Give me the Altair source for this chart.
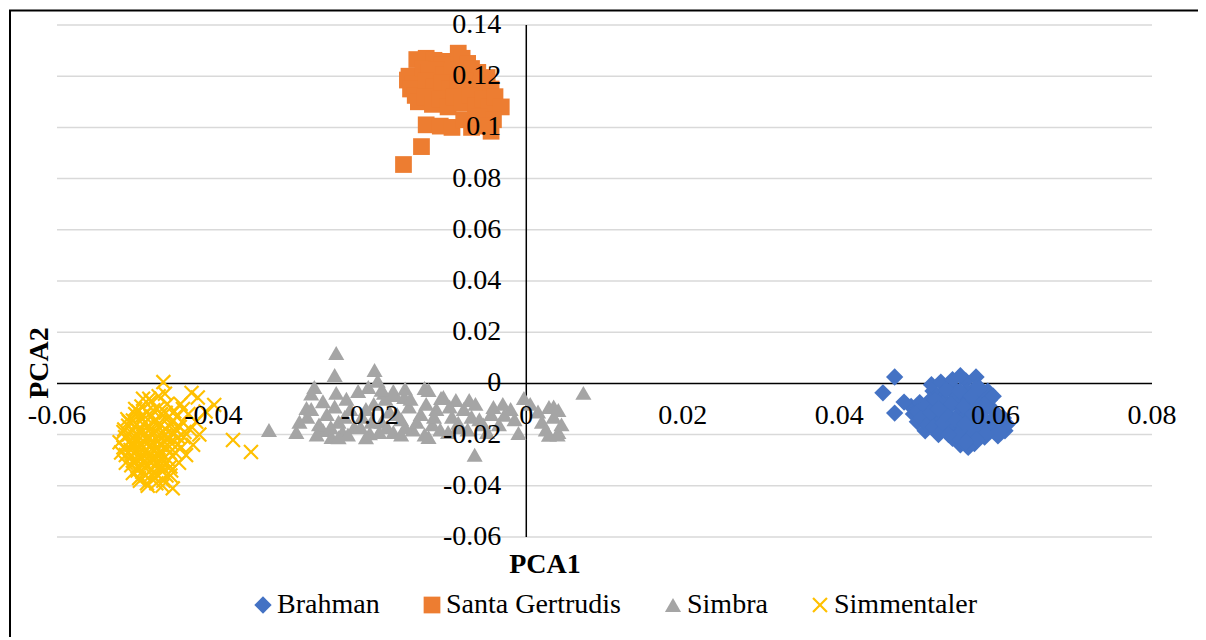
import altair as alt
import pandas as pd

series_names = ["Brahman", "Santa Gertrudis", "Simbra", "Simmentaler"]
series_colors = ["#4472C4", "#ED7D31", "#A5A5A5", "#FFC000"]

brahman_x = [0.0492, 0.0495, 0.0500, 0.0503, 0.0508, 0.0512, 0.0515, 0.0518, 0.0522, 0.0525,
             0.0528, 0.0530, 0.0532, 0.0535, 0.0538, 0.0540, 0.0542, 0.0545, 0.0547, 0.0550,
             0.0552, 0.0555, 0.0557, 0.0558, 0.0560, 0.0562, 0.0563, 0.0565, 0.0567, 0.0568,
             0.0570, 0.0572, 0.0573, 0.0575, 0.0577, 0.0578, 0.0580, 0.0582, 0.0583, 0.0585,
             0.0586, 0.0590, 0.0592, 0.0595, 0.0598, 0.0600, 0.0603, 0.0607, 0.0612, 0.0615,
             0.0520, 0.0545, 0.0555, 0.0565, 0.0510, 0.0518, 0.0530, 0.0545, 0.0555,
             0.0500, 0.0505, 0.0510, 0.0513, 0.0517, 0.0520, 0.0523, 0.0527, 0.0533, 0.0537,
             0.0543, 0.0548, 0.0551, 0.0554, 0.0559, 0.0561, 0.0566, 0.0569, 0.0571, 0.0574,
             0.0579, 0.0581, 0.0584, 0.0588, 0.0591, 0.0594, 0.0597, 0.0602, 0.0605, 0.0610,
             0.0576, 0.0562, 0.0540, 0.0535, 0.0527,
             0.0471, 0.0456, 0.0471, 0.0483]
brahman_y = [-0.0090, -0.0120, -0.0150, -0.0075, -0.0105, -0.0135, -0.0165, -0.0060, -0.0090, -0.0120,
             -0.0150, -0.0180, -0.0040, -0.0070, -0.0100, -0.0130, -0.0160, -0.0190, -0.0020, -0.0050,
             -0.0085, -0.0115, -0.0145, -0.0175, -0.0205, 0.0010, -0.0030, -0.0065, -0.0100, -0.0135,
             -0.0165, -0.0195, -0.0235, 0.0025, -0.0010, -0.0045, -0.0080, -0.0115, -0.0150, -0.0180,
             -0.0210, -0.0030, -0.0065, -0.0100, -0.0135, -0.0170, -0.0205, -0.0150, -0.0185, -0.0160,
             -0.0030, -0.0215, -0.0240, -0.0250, -0.0185, -0.0005, 0.0005, 0.0015, 0.0030,
             -0.0110, -0.0135, -0.0090, -0.0160, -0.0115, -0.0170, -0.0065, -0.0200, -0.0155, -0.0025,
             -0.0080, -0.0140, -0.0205, -0.0030, -0.0090, -0.0160, -0.0215, -0.0050, -0.0120, -0.0180,
             -0.0020, -0.0100, -0.0135, -0.0195, -0.0085, -0.0150, -0.0050, -0.0120, -0.0185, -0.0135,
             -0.0220, -0.0230, -0.0200, -0.0120, -0.0100,
             0.0025, -0.0037, -0.0116, -0.0073]

santa_x = [-0.0140, -0.0128, -0.0118, -0.0100, -0.0087, -0.0082, -0.0075, -0.0108,
           -0.0150, -0.0152, -0.0145, -0.0148, -0.0142, -0.0138,
           -0.0132, -0.0125, -0.0115, -0.0105, -0.0095, -0.0085, -0.0070, -0.0062, -0.0128, -0.0118,
           -0.0108, -0.0098, -0.0088, -0.0078, -0.0068, -0.0058, -0.0050, -0.0045,
           -0.0130, -0.0120, -0.0110, -0.0100, -0.0092, -0.0082, -0.0072, -0.0065, -0.0055, -0.0048,
           -0.0128, -0.0110, -0.0095, -0.0080, -0.0070, -0.0060,
           -0.0040, -0.0032, -0.0045, -0.0042, -0.0052,
           -0.0157, -0.0134]
santa_y = [0.1265, 0.1270, 0.1262, 0.1258, 0.1290, 0.1270, 0.1250, 0.1245,
           0.1200, 0.1185, 0.1170, 0.1150, 0.1125, 0.1100,
           0.1230, 0.1215, 0.1225, 0.1205, 0.1220, 0.1200, 0.1230, 0.1215, 0.1180, 0.1160,
           0.1175, 0.1150, 0.1165, 0.1180, 0.1160, 0.1170, 0.1195, 0.1150,
           0.1120, 0.1090, 0.1110, 0.1080, 0.1120, 0.1095, 0.1125, 0.1085, 0.1110, 0.1080,
           0.1010, 0.1005, 0.1000, 0.1030, 0.1000, 0.1040,
           0.1120, 0.1080, 0.0985, 0.1030, 0.1005,
           0.0855, 0.0925]

simbra_x = [-0.0243, -0.0245, -0.0271, -0.0194, -0.0281, -0.0243, -0.0329, -0.0294, -0.0260, -0.0249,
            -0.0202, -0.0182, -0.0169, -0.0156, -0.0130, -0.0109, -0.0125, -0.0106, -0.0090, -0.0073,
            -0.0042, -0.0028, -0.0003, -0.0010, 0.0029, 0.0041, 0.0041, 0.0029, -0.0066, 0.0073,
            -0.0125, -0.0087,
            -0.0280, -0.0265, -0.0255, -0.0240, -0.0235, -0.0225, -0.0220, -0.0210, -0.0200, -0.0195,
            -0.0185, -0.0175, -0.0170, -0.0160, -0.0150, -0.0145, -0.0135, -0.0120, -0.0115, -0.0100,
            -0.0095, -0.0080, -0.0075, -0.0060, -0.0050, -0.0035, -0.0020, 0.0015, 0.0020, 0.0035,
            0.0045, -0.0230, -0.0215, -0.0190, -0.0260, -0.0275, -0.0160, -0.0130, -0.0240, -0.0205,
            -0.0290, -0.0275, -0.0268, -0.0250, -0.0245, -0.0232, -0.0228, -0.0212, -0.0205, -0.0198,
            -0.0188, -0.0180, -0.0178, -0.0165, -0.0155, -0.0148, -0.0140, -0.0128, -0.0118, -0.0110,
            -0.0098, -0.0088, -0.0070, -0.0065, -0.0055, -0.0045, -0.0030, -0.0015, 0.0005, 0.0025,
            0.0035, 0.0040, -0.0170, -0.0155, -0.0185]
simbra_y = [0.0119, 0.0033, -0.0014, 0.0052, -0.0096, -0.0037, -0.0182, -0.0190, -0.0182, -0.0209,
            -0.0014, -0.0037, -0.0045, -0.0053, -0.0018, -0.0057, -0.0026, -0.0053, -0.0065, -0.0065,
            -0.0092, -0.0123, -0.0057, -0.0194, -0.0092, -0.0104, -0.0190, -0.0201, -0.0279, -0.0037,
            -0.0209, -0.0154,
            -0.0130, -0.0160, -0.0120, -0.0150, -0.0190, -0.0100, -0.0170, -0.0130, -0.0195, -0.0080,
            -0.0150, -0.0110, -0.0190, -0.0140, -0.0090, -0.0180, -0.0120, -0.0160, -0.0100, -0.0190,
            -0.0130, -0.0100, -0.0180, -0.0140, -0.0190, -0.0160, -0.0100, -0.0110, -0.0150, -0.0130,
            -0.0160, -0.0060, -0.0030, 0.0010, -0.0070, -0.0040, -0.0200, -0.0200, -0.0210, -0.0210,
            -0.0150, -0.0100, -0.0200, -0.0170, -0.0090, -0.0130, -0.0200, -0.0170, -0.0100, -0.0150,
            -0.0190, -0.0060, -0.0170, -0.0120, -0.0170, -0.0060, -0.0150, -0.0080, -0.0130, -0.0180,
            -0.0090, -0.0170, -0.0130, -0.0080, -0.0160, -0.0120, -0.0080, -0.0140, -0.0080, -0.0180,
            -0.0090, -0.0200, -0.0030, -0.0020, -0.0025]

simm_x = [-0.0464, -0.0428, -0.0399, -0.0375, -0.0352, -0.0420, -0.0410,
          -0.0520, -0.0518, -0.0515, -0.0512, -0.0508, -0.0505, -0.0503, -0.0500, -0.0498, -0.0496,
          -0.0494, -0.0492, -0.0490, -0.0488, -0.0486, -0.0484, -0.0482, -0.0480, -0.0478, -0.0476,
          -0.0474, -0.0472, -0.0470, -0.0468, -0.0466, -0.0464, -0.0462, -0.0460, -0.0458, -0.0456,
          -0.0454, -0.0452, -0.0450, -0.0448, -0.0446, -0.0444, -0.0442, -0.0440, -0.0438, -0.0435,
          -0.0432, -0.0430, -0.0426, -0.0422, -0.0418, -0.0480, -0.0470, -0.0495, -0.0460, -0.0490,
          -0.0508, -0.0506, -0.0504, -0.0502, -0.0500, -0.0498, -0.0497, -0.0495, -0.0493, -0.0491,
          -0.0489, -0.0487, -0.0485, -0.0483, -0.0481, -0.0479, -0.0477, -0.0475, -0.0473, -0.0471,
          -0.0469, -0.0467, -0.0465, -0.0463, -0.0461, -0.0459, -0.0457, -0.0455, -0.0453, -0.0451,
          -0.0449, -0.0447, -0.0445, -0.0443, -0.0441, -0.0439, -0.0437, -0.0505, -0.0495, -0.0485,
          -0.0475, -0.0465, -0.0455, -0.0510, -0.0500, -0.0480, -0.0470, -0.0490, -0.0515, -0.0513,
          -0.0509, -0.0507, -0.0505, -0.0503, -0.0501, -0.0499, -0.0497, -0.0495, -0.0493, -0.0491,
          -0.0489, -0.0487, -0.0485, -0.0483, -0.0481, -0.0479, -0.0477, -0.0475, -0.0473, -0.0471,
          -0.0469, -0.0467, -0.0465, -0.0463, -0.0461, -0.0459, -0.0457, -0.0455, -0.0498, -0.0488,
          -0.0478, -0.0468, -0.0502, -0.0492, -0.0482, -0.0472, -0.0462, -0.0512, -0.0514, -0.0496]
simm_y = [0.0005, -0.0037, -0.0084, -0.0221, -0.0268, -0.0055, -0.0110,
          -0.0230, -0.0270, -0.0190, -0.0310, -0.0150, -0.0240, -0.0350, -0.0120, -0.0200, -0.0280,
          -0.0380, -0.0090, -0.0160, -0.0230, -0.0320, -0.0400, -0.0060, -0.0130, -0.0200, -0.0260,
          -0.0350, -0.0100, -0.0170, -0.0240, -0.0300, -0.0380, -0.0040, -0.0140, -0.0210, -0.0270,
          -0.0340, -0.0410, -0.0110, -0.0180, -0.0240, -0.0310, -0.0080, -0.0150, -0.0210, -0.0280,
          -0.0120, -0.0180, -0.0240, -0.0150, -0.0200, -0.0340, -0.0300, -0.0330, -0.0360, -0.0250,
          -0.0200, -0.0260, -0.0180, -0.0300, -0.0220, -0.0160, -0.0340, -0.0250, -0.0130, -0.0290,
          -0.0200, -0.0360, -0.0110, -0.0270, -0.0180, -0.0310, -0.0230, -0.0150, -0.0390, -0.0280,
          -0.0200, -0.0120, -0.0330, -0.0250, -0.0180, -0.0080, -0.0300, -0.0230, -0.0150, -0.0200,
          -0.0270, -0.0130, -0.0210, -0.0170, -0.0250, -0.0100, -0.0190, -0.0320, -0.0370, -0.0390,
          -0.0370, -0.0400, -0.0360, -0.0140, -0.0100, -0.0070, -0.0050, -0.0060, -0.0250, -0.0210,
          -0.0165, -0.0225, -0.0285, -0.0145, -0.0205, -0.0265, -0.0325, -0.0185, -0.0235, -0.0345,
          -0.0125, -0.0215, -0.0295, -0.0165, -0.0245, -0.0355, -0.0105, -0.0195, -0.0315, -0.0225,
          -0.0155, -0.0275, -0.0345, -0.0205, -0.0115, -0.0255, -0.0165, -0.0325, -0.0300, -0.0270,
          -0.0290, -0.0320, -0.0240, -0.0190, -0.0210, -0.0250, -0.0230, -0.0280, -0.0180, -0.0110]

x_ticks = [-0.06, -0.04, -0.02, 0, 0.02, 0.04, 0.06, 0.08]
x_tick_labels = ["-0.06", "-0.04", "-0.02", "0", "0.02", "0.04", "0.06", "0.08"]
y_ticks = [-0.06, -0.04, -0.02, 0, 0.02, 0.04, 0.06, 0.08, 0.1, 0.12, 0.14]
y_tick_labels = ["-0.06", "-0.04", "-0.02", "0", "0.02", "0.04", "0.06", "0.08", "0.1", "0.12", "0.14"]
x_min, x_max = -0.06, 0.08
y_min, y_max = -0.06, 0.14

X_PATH = ("M-1,-0.8L-0.8,-1L0,-0.2L0.8,-1L1,-0.8L0.2,0L1,0.8L0.8,1"
          "L0,0.2L-0.8,1L-1,0.8L-0.2,0Z")

rows = []
for name, xs, ys in [("Brahman", brahman_x, brahman_y), ("Santa Gertrudis", santa_x, santa_y),
                     ("Simbra", simbra_x, simbra_y), ("Simmentaler", simm_x, simm_y)]:
    for a, b in zip(xs, ys):
        rows.append({"series": name, "x": a, "y": b, "order": series_names.index(name)})
df = pd.DataFrame(rows)

FONT = "'Liberation Serif', 'Times New Roman', Tinos, 'DejaVu Serif', serif"
xscale = alt.Scale(domain=[x_min, x_max], nice=False, zero=False)
yscale = alt.Scale(domain=[y_min, y_max], nice=False, zero=False)

frame = alt.Chart(pd.DataFrame({"k": [1]})).mark_rect(
    fill="transparent", stroke="black", strokeWidth=2).encode(
    x=alt.value(-47), x2=alt.value(1250), y=alt.value(-14.5), y2=alt.value(700))

grid_df = pd.DataFrame({"v": [v for v in y_ticks if v != 0]})
grid_df["a"] = x_min
grid_df["b"] = x_max
grid = alt.Chart(grid_df).mark_rule(color="#d9d9d9", strokeWidth=1.5).encode(
    y=alt.Y("v:Q", scale=yscale, axis=None),
    x=alt.X("a:Q", scale=xscale, axis=None),
    x2="b:Q",
)

h_df = pd.DataFrame({"v": [0.0], "a": [x_min], "b": [x_max]})
hline = alt.Chart(h_df).mark_rule(color="black", strokeWidth=1.5).encode(
    y=alt.Y("v:Q", scale=yscale, axis=None),
    x=alt.X("a:Q", scale=xscale, axis=None),
    x2="b:Q",
)
v_df = pd.DataFrame({"v": [0.0], "a": [y_min], "b": [y_max]})
vline = alt.Chart(v_df).mark_rule(color="black", strokeWidth=1.5).encode(
    x=alt.X("v:Q", scale=xscale, axis=None),
    y=alt.Y("a:Q", scale=yscale, axis=None),
    y2="b:Q",
)

points = alt.Chart(df).mark_point(filled=True, opacity=1, strokeWidth=0).encode(
    x=alt.X("x:Q", scale=xscale, axis=None),
    y=alt.Y("y:Q", scale=yscale, axis=None),
    color=alt.Color("series:N", scale=alt.Scale(domain=series_names, range=series_colors),
                    legend=alt.Legend(title=None)),
    shape=alt.Shape("series:N", scale=alt.Scale(domain=series_names,
                                                range=["diamond", "square", "triangle-up", X_PATH]),
                    legend=alt.Legend(title=None)),
    size=alt.Size("series:N", scale=alt.Scale(domain=series_names, range=[300, 240, 290, 240]),
                  legend=None),
    order=alt.Order("order:Q"),
)

xlab_df = pd.DataFrame({"v": x_ticks, "lab": x_tick_labels, "z": [0.0] * len(x_ticks)})
xlabels = alt.Chart(xlab_df).mark_text(font=FONT, fontSize=28, color="black", align="center",
                                       baseline="middle", dy=33).encode(
    x=alt.X("v:Q", scale=xscale, axis=None),
    y=alt.Y("z:Q", scale=yscale, axis=None),
    text="lab:N",
)
ylab_df = pd.DataFrame({"v": y_ticks, "lab": y_tick_labels, "z": [0.0] * len(y_ticks)})
ylabels = alt.Chart(ylab_df).mark_text(font=FONT, fontSize=28, color="black", align="right",
                                       baseline="middle", dx=-25).encode(
    y=alt.Y("v:Q", scale=yscale, axis=None),
    x=alt.X("z:Q", scale=xscale, axis=None),
    text="lab:N",
)

xtitle = alt.Chart(pd.DataFrame({"t": ["PCA1"]})).mark_text(
    font=FONT, fontSize=28, fontWeight="bold", color="black",
    align="center", baseline="middle").encode(
    x=alt.value(488), y=alt.value(540), text="t:N")
ytitle = alt.Chart(pd.DataFrame({"t": ["PCA2"]})).mark_text(
    font=FONT, fontSize=28, fontWeight="bold", color="black",
    align="center", baseline="middle", angle=270).encode(
    x=alt.value(-17), y=alt.value(338), text="t:N")

chart = alt.layer(frame, grid, hline, vline, points, xlabels, ylabels, xtitle, ytitle).properties(
    width=1095, height=512,
    autosize=alt.AutoSizeParams(type="none"),
    padding={"left": 49, "top": 17, "right": 46, "bottom": 100},
).configure_view(stroke=None).configure_legend(
    orient="none", legendX=192, legendY=566, direction="horizontal",
    labelFont=FONT, labelFontSize=28, labelColor="black", symbolSize=230,
    symbolStrokeWidth=0, columnPadding=38, labelOffset=0, padding=0, labelLimit=400,
)

chart.save("out.html", embed_options={"renderer": "svg", "actions": False})
